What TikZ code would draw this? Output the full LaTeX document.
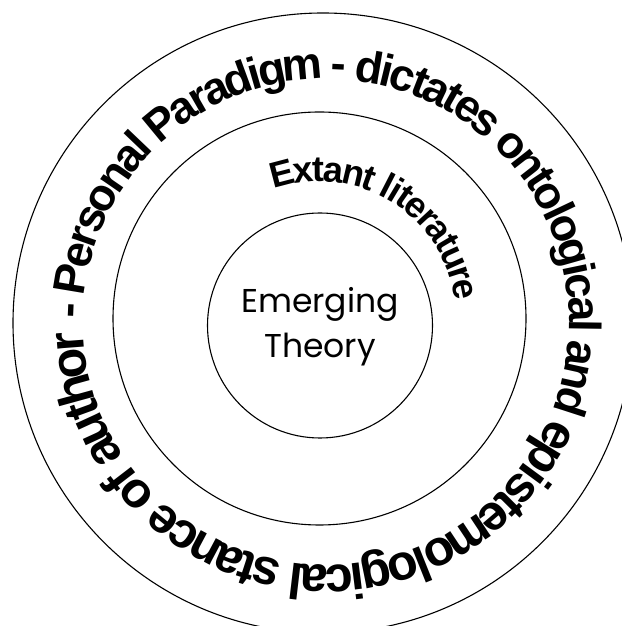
\documentclass[tikz,border=0pt]{standalone}
\usepackage{fontspec}
\usepackage{tikz}
\usetikzlibrary{calc,decorations.text}
\newfontfamily\arcfont{Liberation Sans}
\newfontfamily\corefont{Poppins}

\begin{document}
\begin{tikzpicture}[x=1pt,y=1pt]
	\path [use as bounding box] (0,0) rectangle (621,626);
	\tikzstyle{ring} = [draw, line width=1.1pt]
	\tikzstyle{core} = [font=\corefont\fontsize{33}{33}\selectfont, anchor=base, inner sep=0pt]
	\coordinate (O) at (323,303);
	\coordinate (M) at (319.5,307.5);
	\coordinate (I) at (320,300.5);
	\coordinate (T) at (326,304);
	\draw[ring] (O) circle (310);
	\draw[ring] (M) circle (206.5);
	\draw[ring] (I) circle (112.5);
	\node[core] (emerging) at (320,313) {Emerging};
	\node[core] (theory) at (320,268) {Theory};
	% text round the rings
	\path[decorate, decoration={text along path, text align=left, raise=-18pt,
		text={|\arcfont\bfseries\fontsize{36}{36}\selectfont|Extant literature}}]
		($(M)+(109:155)$) arc[start angle=109, end angle=-10, radius=155];
	\path[decorate, decoration={text along path, text align=left, raise=-41pt,
		text={|\arcfont\bfseries\fontsize{45}{45}\selectfont|- Personal Paradigm - dictates ontological and}}]
		($(T)+(179:284)$) arc[start angle=179, end angle=-25, radius=284];
	\path[decorate, decoration={text along path, text align=left, raise=-47.4pt,
		text={|\arcfont\bfseries\fontsize{50}{50}\selectfont|epistemological stance of author}}]
		($(T)+(-23.5:290.4)$) arc[start angle=-23.5, end angle=-185, radius=290.4];
\end{tikzpicture}
\end{document}
